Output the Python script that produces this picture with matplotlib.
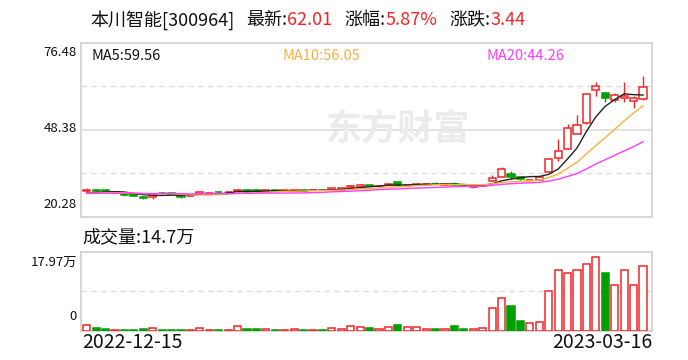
import matplotlib
matplotlib.use('Agg')
import matplotlib.pyplot as plt
import numpy as np

plt.rcParams['font.family'] = ['Noto Sans CJK SC', 'DejaVu Sans']

# ---------------- data ----------------
date_labels = ['2022-12-15', '2023-03-16']
prev_closes = [27.2, 27.4, 27.6, 27.5, 27.8, 27.9, 27.6, 27.5, 27.7, 27.9,
               28.0, 27.8, 27.6, 27.5, 27.7, 27.8, 27.6, 27.5, 27.7]
opens = [28.4, 29.0, 28.7, 28.0, 27.5, 27.4, 26.5, 26.7, 28.0, 27.8,
         27.0, 26.9, 27.6, 27.7, 28.3, 28.2, 28.4, 28.7, 29.0, 28.3,
         28.7, 28.6, 28.4, 28.7, 28.8, 29.0, 29.0, 29.0, 29.8, 29.7,
         30.35, 30.1, 30.6, 31.3, 30.3, 30.5, 30.6, 30.9, 30.6, 30.9,
         30.5, 29.9, 30.1, 31.9, 33.0, 34.1, 33.0, 32.0, 32.2, 34.8,
         39.3, 42.24, 47.1, 50.5, 61.1, 60.3, 57.9, 58.45, 57.48, 58.13]
highs = [29.6, 29.1, 28.8, 28.2, 27.7, 27.5, 27.0, 28.0, 28.1, 27.9,
         27.1, 27.1, 28.4, 28.1, 28.4, 28.4, 29.3, 29.0, 29.1, 28.8,
         28.8, 28.8, 29.0, 28.8, 29.1, 29.1, 29.5, 29.5, 30.5, 30.7,
         30.5, 30.4, 31.2, 31.5, 30.7, 31.0, 30.9, 31.3, 30.9, 31.3,
         30.6, 30.1, 30.7, 33.6, 36.2, 34.9, 33.2, 32.4, 33.2, 39.2,
         45.26, 50.1, 53.0, 60.3, 63.7, 60.5, 60.1, 63.7, 59.2, 65.68]
lows = [28.3, 28.3, 28.3, 27.9, 26.9, 26.8, 26.1, 26.1, 27.7, 27.5,
        26.4, 26.8, 27.5, 27.6, 28.0, 28.1, 28.3, 28.2, 28.3, 28.2,
        28.5, 28.5, 28.3, 28.5, 28.7, 28.7, 28.9, 28.9, 29.7, 29.6,
        29.7, 30.0, 30.5, 30.2, 30.2, 30.4, 30.5, 30.6, 30.5, 30.4,
        30.1, 29.6, 30.0, 31.8, 32.9, 32.5, 32.2, 31.8, 32.0, 34.6,
        38.2, 42.0, 46.8, 50.1, 59.4, 57.35, 57.2, 57.35, 55.4, 58.0]
closes = [29.0, 28.4, 28.4, 28.1, 27.1, 26.9, 26.2, 27.4, 27.8, 27.6,
          26.5, 27.0, 28.2, 28.0, 28.1, 28.3, 29.0, 28.3, 28.4, 28.7,
          28.6, 28.7, 28.7, 28.6, 29.0, 28.8, 29.4, 29.4, 30.1, 30.5,
          30.2, 30.3, 30.9, 30.35, 30.6, 30.9, 30.8, 30.8, 30.8, 30.5,
          30.2, 30.0, 30.6, 32.8, 35.5, 33.0, 32.4, 32.2, 33.0, 39.0,
          41.6, 48.8, 49.8, 59.9, 62.6, 58.6, 59.5, 59.1, 58.57, 62.01]
volumes = [1.34, 0.67, 0.42, 0.2, 0.2, 0.2, 0.42, 0.59, 0.2, 0.2,
           0.2, 0.2, 0.59, 0.2, 0.2, 0.2, 1.09, 0.42, 0.42, 0.42,
           0.2, 0.2, 0.42, 0.2, 0.2, 0.2, 0.59, 0.42, 1.09, 0.84,
           0.67, 0.42, 0.84, 1.18, 0.84, 0.84, 0.42, 0.42, 0.42, 0.92,
           0.42, 0.42, 0.59, 5.12, 7.39, 5.46, 2.18, 1.60, 1.85, 8.90,
           13.69, 13.18, 13.69, 15.20, 16.71, 13.02, 10.41, 13.77, 10.24, 14.70]  # 万
price_ticks = [20.28, 48.38, 76.48]
vol_max = 17.97
ma_periods = [5, 10, 20]
ma_labels = ['MA5:59.56', 'MA10:56.05', 'MA20:44.26']
title_parts = [('本川智能[300964]', 'k'), ('最新:', 'k'), ('62.01', 'r'),
               ('涨幅:', 'k'), ('5.87%', 'r'), ('涨跌:', 'k'), ('3.44', 'r')]
vol_title = '成交量:14.7万'

# ---------------- style ----------------
RED = '#f2262a'
GREEN = '#00a000'
GRID = '#dcdcdc'
SPINE = '#d0d0d0'
TXT = '#111111'
MA_COLORS = ['#222222', '#f7b23b', '#ff3cff']

W, H = 688, 360
fig = plt.figure(figsize=(W / 100, H / 100), dpi=100)

def fx(px):
    return px / W

def fy(py):
    return 1 - py / H

ax = fig.add_axes([fx(81), fy(216.5), fx(652) - fx(81), fy(42.7) - fy(216.5)])
axv = fig.add_axes([fx(81), fy(330.5), fx(652) - fx(81), fy(251.5) - fy(330.5)])

o = np.array(opens); h = np.array(highs); l = np.array(lows); c = np.array(closes)
n = len(c)
x = np.arange(n)
up = c >= o
width = 0.76

# gridlines
lo, hi = price_ticks[0], price_ticks[-1]
q = (hi - lo) / 4
ax.axhline(lo + q, color=GRID, lw=1, ls=(0, (4, 3)), zorder=0)
ax.axhline(lo + 3 * q, color=GRID, lw=1, ls=(0, (4, 3)), zorder=0)
ax.axhline(price_ticks[1], color=GRID, lw=1.2, zorder=0)

# watermark
ax.text(0.555, 0.505, '东方财富', transform=ax.transAxes, fontsize=26,
        fontweight='bold', color='#ebebeb', ha='center', va='center', zorder=0.5)

cols = np.where(up, RED, GREEN)
ax.vlines(x, l, h, colors=cols, lw=1, zorder=2)
body_lo = np.minimum(o, c)
body_h = np.maximum(np.abs(c - o), 0.12)
ax.bar(x, body_h, width=width, bottom=body_lo,
       color=np.where(up, 'white', GREEN), edgecolor=cols, lw=1.1, zorder=3)

# moving averages
allc = np.concatenate([prev_closes, closes])
for p, mc in zip(ma_periods, MA_COLORS):
    ma = np.convolve(allc, np.ones(p) / p, mode='valid')[-n:]
    ax.plot(x, ma, color=mc, lw=1.0, zorder=4)

ax.set_xlim(-0.6, n - 0.05)
ax.set_ylim(lo, hi)
ax.set_xticks([]); ax.set_yticks([])
for s in ax.spines.values():
    s.set_color(SPINE); s.set_linewidth(1.2)

# volume
v = np.array(volumes)
axv.axhline(vol_max / 2, color=GRID, lw=1, ls=(0, (4, 3)), zorder=0)
axv.bar(x, v, width=width, color=np.where(up, 'white', GREEN),
        edgecolor=cols, lw=1.1, zorder=3)
axv.set_xlim(-0.6, n - 0.05)
axv.set_ylim(0, vol_max)
axv.set_xticks([]); axv.set_yticks([])
for s in axv.spines.values():
    s.set_color(SPINE); s.set_linewidth(1.2)

# title row, pieces chained by measured width
fs_title = 13
renderer = fig.canvas.get_renderer()
cur = 90.0
for i, (t, cc) in enumerate(title_parts):
    txt = fig.text(fx(cur), fy(20), t, fontsize=fs_title,
                   color=(RED if cc == 'r' else TXT), ha='left', va='center')
    wpx = txt.get_window_extent(renderer=renderer).width
    cur += wpx
    if cc == 'r' or i == 0:
        cur += 12

ma_x = [92, 283, 487]
for t, mc, xp in zip(ma_labels, MA_COLORS, ma_x):
    fig.text(fx(xp), fy(56), t, fontsize=10.5, color=(mc if mc != '#222222' else TXT),
             ha='left', va='center')

fig.text(fx(77), fy(53), f'{price_ticks[2]:.2f}', fontsize=9.5, ha='right', va='center', color=TXT)
fig.text(fx(77), fy(128), f'{price_ticks[1]:.2f}', fontsize=9.5, ha='right', va='center', color=TXT)
fig.text(fx(77), fy(205), f'{price_ticks[0]:.2f}', fontsize=9.5, ha='right', va='center', color=TXT)

fig.text(fx(82), fy(237), vol_title, fontsize=13, ha='left', va='center', color=TXT)
fig.text(fx(77), fy(262), f'{vol_max:.2f}万', fontsize=9.5, ha='right', va='center', color=TXT)
fig.text(fx(77), fy(316), '0', fontsize=9.5, ha='right', va='center', color=TXT)

fig.text(fx(82), fy(342), date_labels[0], fontsize=14, ha='left', va='center', color=TXT)
fig.text(fx(652), fy(342), date_labels[1], fontsize=14, ha='right', va='center', color=TXT)

fig.savefig('out.png', dpi=100, facecolor='white')
